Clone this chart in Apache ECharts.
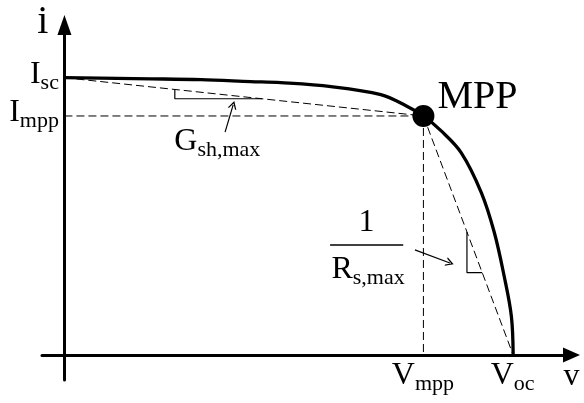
<!DOCTYPE html>
<html>
<head>
<meta charset="utf-8">
<script src="https://cdn.jsdelivr.net/npm/echarts@6/dist/echarts.min.js"></script>
<style>
  html, body { margin: 0; padding: 0; background: #fff; }
  #chart { width: 584px; height: 403px; }
</style>
</head>
<body>
<div id="chart"></div>
<script>
// I–V characteristic of a PV source, normalised so that Isc = 1 and Voc = 1
const voltage = [0, 0.192, 0.304, 0.415, 0.482, 0.594, 0.705, 0.761, 0.80, 0.839, 0.884, 0.929, 0.958, 0.980, 0.996, 1.0];
const current = [1.0, 0.996, 0.993, 0.986, 0.982, 0.968, 0.939, 0.899, 0.862, 0.809, 0.730, 0.586, 0.442, 0.284, 0.140, 0];

// characteristic points
const Isc = 1.0;
const Voc = 1.0;
const Vmpp = 0.80;
const Impp = 0.862;

// tick labels at the characteristic points
const xTickValues = [Vmpp, Voc];
const xTickLabels = ['{m|V}{s|mpp}', '{m|V}{s|oc}'];
const yTickValues = [Impp, Isc];
const yTickLabels = ['{m|I}{s|mpp}', '{m|I}{s|sc}'];

// voltages where the slope triangles' legs sit
const shuntTriangleV = [0.246, 0.44];
const seriesTriangleV = [0.897, 0.931];

const FONT = '"Liberation Serif", "Times New Roman", serif';
const INK = '#000';

// straight lines through the MPP
const shuntLine = v => Isc - (Isc - Impp) / Vmpp * v;
const seriesLine = v => Impp * (Voc - v) / (Voc - Vmpp);

function triangle(line, legs) {
  const [v1, v2] = legs;
  return [[v1, line(v1)], [v1, line(v2)], [v2, line(v2)]];
}

const richSub = {
  m: { fontSize: 32, lineHeight: 40, fontFamily: FONT, color: INK },
  s: { fontSize: 22, lineHeight: 22, fontFamily: FONT, color: INK, verticalAlign: 'bottom' }
};

const chevron = 'path://M0,10 L5,0 L10,10 L8.4,10 L5,3.2 L1.6,10 Z';

function dashed(points) {
  return {
    type: 'line', data: points, symbol: 'none', silent: true, z: 2,
    lineStyle: { color: INK, width: 1, type: [8, 4] }
  };
}
function thin(points, width) {
  return {
    type: 'line', data: points, symbol: 'none', silent: true, z: 2,
    lineStyle: { color: INK, width: width || 1.2 }
  };
}
// text anchored at a point in data space
function note(point, text, align, verticalAlign, offset, fontSize) {
  return {
    type: 'scatter', data: [point], symbolSize: 1, silent: true, z: 5,
    itemStyle: { color: 'transparent', opacity: 1 },
    label: {
      show: true, position: [0, 0], align: align, verticalAlign: verticalAlign,
      offset: offset || [0, 0],
      formatter: text, rich: richSub, fontFamily: FONT, fontSize: fontSize || 32, color: INK
    }
  };
}

const xTickNotes = xTickValues.map((v, k) => note([v, 0], xTickLabels[k], 'center', 'top', [0, 1]));
const yTickNotes = yTickValues.map((v, k) => note([0, v], yTickLabels[k], 'right', 'middle', [-5, -3]));

const chart = echarts.init(document.getElementById('chart'), null, { renderer: 'canvas' });

chart.setOption({
  animation: false,
  backgroundColor: '#fff',
  grid: { left: 42, right: 12.5, top: 25, bottom: 23, containLabel: false, outerBoundsMode: 'none' },
  xAxis: {
    type: 'value', min: -0.05, max: 1.13,
    axisLine: {
      onZero: true, symbol: ['none', 'triangle'], symbolSize: [15, 17],
      lineStyle: { color: INK, width: 3 }
    },
    axisTick: { show: false },
    splitLine: { show: false },
    axisLabel: { show: false },
    name: 'v', nameLocation: 'end', nameGap: 0, nameMoveOverlap: false,
    nameTextStyle: { fontFamily: FONT, fontSize: 32, color: INK, align: 'center', verticalAlign: 'top', padding: [6, 0, 0, 0] }
  },
  yAxis: {
    type: 'value', min: -0.09, max: 1.19,
    axisLine: {
      onZero: true, symbol: ['none', 'triangle'], symbolSize: [14, 20],
      lineStyle: { color: INK, width: 3 }
    },
    axisTick: { show: false },
    splitLine: { show: false },
    axisLabel: { show: false },
    name: 'i', nameLocation: 'end', nameGap: -17, nameMoveOverlap: false,
    nameTextStyle: { fontFamily: FONT, fontSize: 40, color: INK, align: 'right', verticalAlign: 'bottom', padding: [0, 16, 0, 0] }
  },
  series: [
    dashed([[0, Impp], [Vmpp, Impp]]),
    dashed([[Vmpp, Impp], [Vmpp, 0]]),
    dashed([[0, Isc], [Vmpp, Impp]]),
    dashed([[Vmpp, Impp], [Voc, 0]]),
    thin(triangle(shuntLine, shuntTriangleV)),
    thin(triangle(seriesLine, seriesTriangleV)),
    thin([[0.592, 0.397], [0.755, 0.397]], 1.5),
    {
      type: 'line',
      data: voltage.map((v, k) => [v, current[k]]),
      symbol: 'none', smooth: 0.35, z: 3, silent: true,
      lineStyle: { color: INK, width: 3.3 },
      markLine: {
        silent: true, animation: false,
        symbol: ['none', chevron], symbolSize: [9, 8],
        label: { show: false },
        lineStyle: { color: INK, width: 1.2, type: 'solid', curveness: -0.45 },
        data: [
          [{ coord: [0.358, 0.804] }, { coord: [0.376, 0.902] }],
          [{ coord: [0.781, 0.379], lineStyle: { curveness: -0.6 } }, { coord: [0.859, 0.332] }]
        ]
      }
    },
    {
      type: 'scatter', data: [[Vmpp, Impp]], symbolSize: 22, z: 6, silent: true,
      itemStyle: { color: INK, opacity: 1 },
      label: {
        show: true, position: 'right', distance: 3, offset: [0, -18],
        formatter: 'MPP', fontFamily: FONT, fontSize: 40, color: INK
      }
    },
    ...xTickNotes,
    ...yTickNotes,
    note([0.246, 0.768], '{m|G}{s|sh,max}', 'left', 'middle'),
    note([0.674, 0.474], '1', 'center', 'middle'),
    note([0.596, 0.307], '{m|R}{s|s,max}', 'left', 'middle')
  ]
});
</script>
</body>
</html>
